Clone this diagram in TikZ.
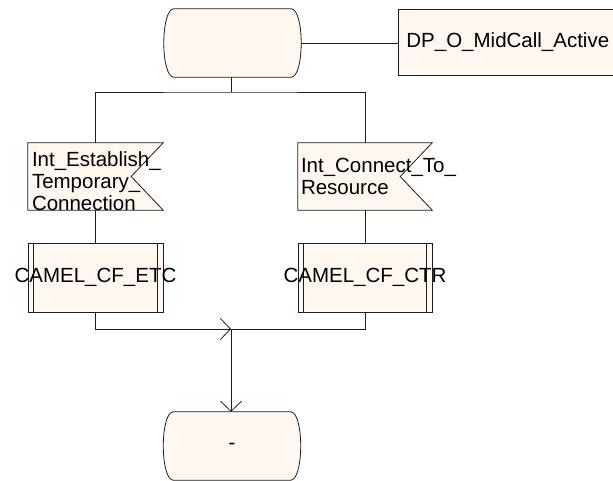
\documentclass[tikz,border=0pt]{standalone}
\usepackage{fontspec}
\setmainfont{Liberation Sans}
\usetikzlibrary{arrows.meta,calc}
\definecolor{sdlfill}{RGB}{255,247,240}
\definecolor{sdlline}{RGB}{30,30,30}
\newcommand\sdlstate[1]{%
  \filldraw[shapeline] ($(#1.north west)+(10,0)$) -- ($(#1.north east)+(-10,0)$)
    .. controls ($(#1.north east)+(-4,0)$) and ($(#1.north east)+(0,15)$) .. (#1.east)
    .. controls ($(#1.south east)+(0,-15)$) and ($(#1.south east)+(-4,0)$) .. ($(#1.south east)+(-10,0)$)
    -- ($(#1.south west)+(10,0)$)
    .. controls ($(#1.south west)+(4,0)$) and ($(#1.south west)+(0,-15)$) .. (#1.west)
    .. controls ($(#1.north west)+(0,15)$) and ($(#1.north west)+(4,0)$) .. cycle;}
\newcommand\sdlsignal[1]{%
  \filldraw[shapeline] (#1.north west) -- (#1.north east) -- ($(#1.east)+(-32,0)$)
    -- (#1.south east) -- (#1.south west) -- cycle;}
\newcommand\sdlproc[1]{%
  \draw[shapeline] ($(#1.north west)+(6,0)$) -- ($(#1.south west)+(6,0)$);
  \draw[shapeline] ($(#1.north east)+(-6,0)$) -- ($(#1.south east)+(-6,0)$);}
\begin{document}
\begin{tikzpicture}[x=1pt,y=-1pt,
  every node/.style={font=\fontsize{20.5}{22}\selectfont, inner sep=0pt, text=black},
  shapeline/.style={draw=sdlline, fill=sdlfill, line width=0.8pt},
  frame/.style={draw=none, minimum width=#1},
  conn/.style={draw=sdlline, line width=0.8pt},
  arr/.style={conn, -{Straight Barb[length=10pt,width=21pt]}},
  procbox/.style={shapeline, minimum height=69pt, minimum width=#1},
  dpbox/.style={shapeline, minimum width=260pt, minimum height=66pt, text width=244pt, align=left, inner xsep=8pt},
  sigtext/.style={anchor=north west, align=left}]
\useasboundingbox (0,0) rectangle (613,481);

% start state
\node[frame=137pt, minimum height=68pt] (start) at (232.5,43) {};
\sdlstate{start}
% DP box
\node[dpbox, anchor=west] (dp) at (398,42.5) {DP\_O\_MidCall\_Active};

% signals
\node[frame=135pt, minimum height=67pt] (sig1) at (95.5,176.5) {};
\sdlsignal{sig1}
\node[sigtext] (sig1t) at ($(sig1.north west)+(4,9)$) {Int\_Establish\_\\Temporary\_\\Connection};
\node[frame=134pt, minimum height=67pt] (sig2) at (365,176.5) {};
\sdlsignal{sig2}
\node[sigtext] (sig2t) at ($(sig2.north west)+(3,15.5)$) {Int\_Connect\_To\_\\Resource};

% procedures
\node[procbox=135pt] (etc) at (95.5,277.5) {};
\sdlproc{etc}
\node (etct) at (etc.center) {CAMEL\_CF\_ETC};
\node[procbox=134pt] (ctr) at (365,277.5) {};
\sdlproc{ctr}
\node (ctrt) at (ctr.center) {CAMEL\_CF\_CTR};

% end state
\node[frame=137pt, minimum height=68pt] (end) at (232,446) {};
\sdlstate{end}
\node (endt) at (end.center) {-};

% connectors
\coordinate (split) at (231,92);
\coordinate (merge) at (231,329);
\draw[conn] (start.east) -- (start.east -| dp.west);
\draw[conn] (start.south -| split) -- (split);
\draw[conn] (sig1.north) |- (split) -| (sig2.north);
\draw[conn] (sig1.south) -- (etc.north);
\draw[conn] (sig2.south) -- (ctr.north);
\draw[arr] (etc.south) |- (merge);
\draw[conn] (ctr.south) |- (merge);
\draw[arr] (merge) -- (merge |- end.north);
\end{tikzpicture}
\end{document}
